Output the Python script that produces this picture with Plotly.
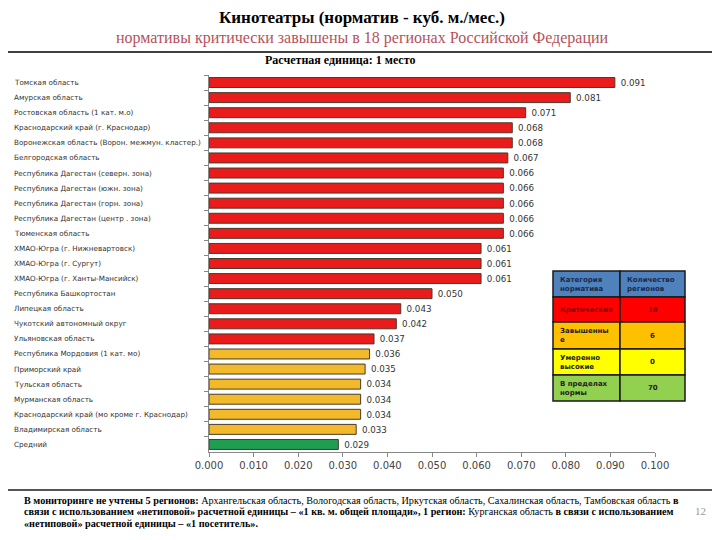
import plotly.graph_objects as go

regions = [
    "Томская область", "Амурская область", "Ростовская область (1 кат. м.о)",
    "Краснодарский край (г. Краснодар)", "Воронежская область (Ворон. межмун. кластер.)",
    "Белгородская область", "Республика Дагестан (северн. зона)",
    "Республика Дагестан (южн. зона)", "Республика Дагестан (горн. зона)",
    "Республика Дагестан (центр . зона)", "Тюменская область",
    "ХМАО-Югра (г. Нижневартовск)", "ХМАО-Югра (г. Сургут)",
    "ХМАО-Югра (г. Ханты-Мансийск)", "Республика Башкортостан",
    "Липецкая область", "Чукотский автономный округ", "Ульяновская область",
    "Республика Мордовия (1 кат. мо)", "Приморский край", "Тульская область",
    "Мурманская область", "Краснодарский край (мо кроме г. Краснодар)",
    "Владимирская область", "Средний",
]
values = [0.091, 0.081, 0.071, 0.068, 0.068, 0.067, 0.066, 0.066, 0.066, 0.066,
          0.066, 0.061, 0.061, 0.061, 0.050, 0.043, 0.042, 0.037, 0.036, 0.035,
          0.034, 0.034, 0.034, 0.033, 0.029]
groups = ["crit"] * 18 + ["high"] * 6 + ["avg"]
group_colors = {"crit": "#EA1B1B", "high": "#F2B92A", "avg": "#1F9E4F"}

x_ticks = [0.000, 0.010, 0.020, 0.030, 0.040, 0.050, 0.060, 0.070, 0.080, 0.090, 0.100]

table_header = ["Категория<br>норматива", "Количество<br>регионов"]
table_cats = ["Критические", "Завышенны<br>е", "Умеренно<br>высокие", "В пределах<br>нормы"]
table_counts = [18, 6, 0, 70]
table_colors = ["#FF0000", "#FFC000", "#FFFF00", "#92D050"]
header_color = "#4F81BD"

# page body has an 8px margin; lay the figure out in screen pixels
OFF = 8
W, H = 720 - 2 * OFF, 540 - 2 * OFF
PL, PR, PT, PB = 209, 655, 75, 452  # plot area in screen pixels
ML, MR, MT, MB = PL - OFF, W - (PR - OFF), PT - OFF, H - (PB - OFF)
PW, PH = W - ML - MR, H - MT - MB


def px(x):
    return (x - OFF - ML) / PW


def py(y):
    return (H - MB - (y - OFF)) / PH


fig = go.Figure()
fig.add_trace(go.Bar(
    y=regions, x=values, orientation="h",
    marker=dict(color=[group_colors[g] for g in groups],
                line=dict(color="#4a3a2a", width=1)),
    text=[f" {v:.3f}" for v in values], textposition="outside",
    textfont=dict(family="DejaVu Sans", size=10.5, color="#333333"),
    cliponaxis=False, hoverinfo="skip",
))

annotations = []
for r in regions:
    annotations.append(dict(x=px(12), xref="paper", y=r, yref="y", text=r,
                            showarrow=False, xanchor="left", yanchor="middle",
                            font=dict(family="DejaVu Sans", size=7.2, color="#333333")))


def note(x, y, text, size, color="#000000", family="Liberation Serif", xanchor="center", align="center"):
    annotations.append(dict(x=px(x), y=py(y), xref="paper", yref="paper", text=text,
                            showarrow=False, xanchor=xanchor, yanchor="middle", align=align,
                            font=dict(family=family, size=size, color=color)))


note(362, 17, "<b>Кинотеатры (норматив - куб. м./мес.)</b>", 17)
note(362, 38, "нормативы критически завышены в 18 регионах Российской Федерации", 16, "#B5525A")
note(340, 60, "<b>Расчетная единица: 1 место</b>", 12)

foot_lines = [
    "<b>В мониторинге не учтены 5 регионов:</b> Архангельская область, Вологодская область, Иркутская область, Сахалинская область, Тамбовская область <b>в</b>",
    "<b>связи с использованием «нетиповой» расчетной единицы – «1 кв. м. общей площади», 1 регион:</b> Курганская область <b>в связи с использованием</b>",
    "<b>«нетиповой» расчетной единицы – «1 посетитель».</b>",
]
for i, t in enumerate(foot_lines):
    note(22, 500 + 11.5 * i, t, 10.2, xanchor="left", align="left")
note(700, 511, "12", 11, "#999999")

shapes = [
    dict(type="line", xref="paper", yref="paper", x0=px(0), x1=px(720), y0=py(490), y1=py(490),
         line=dict(color="#555555", width=2)),
    dict(type="line", xref="paper", yref="paper", x0=px(0), x1=px(720), y0=py(52), y1=py(52),
         line=dict(color="#000000", width=1.5)),
]

# table
cx = [553, 620, 685]
ry = [271, 297, 322, 349, 375, 401]
rows_fill = [header_color] + table_colors
rows_c1 = table_header[:1] + table_cats
rows_c2 = table_header[1:] + [str(c) for c in table_counts]
for i in range(5):
    for j in range(2):
        shapes.append(dict(type="rect", xref="paper", yref="paper",
                           x0=px(cx[j]), x1=px(cx[j + 1]), y0=py(ry[i + 1]), y1=py(ry[i]),
                           fillcolor=rows_fill[i], line=dict(color="#1a1a1a", width=1.5)))
    ymid = (ry[i] + ry[i + 1]) / 2
    tcol = "#1a2a4a" if i == 0 else ("#8a0000" if i == 1 else "#222222")
    note(cx[0] + 5, ymid, "<b>" + rows_c1[i] + "</b>", 7, tcol, "DejaVu Sans", "left", "left")
    if i == 0:
        note(cx[1] + 5, ymid, "<b>" + rows_c2[i] + "</b>", 7, tcol, "DejaVu Sans", "left", "left")
    else:
        note((cx[1] + cx[2]) / 2, ymid, "<b>" + rows_c2[i] + "</b>", 7, tcol, "DejaVu Sans")

fig.update_layout(
    width=W, height=H, margin=dict(l=ML, r=MR, t=MT, b=MB),
    paper_bgcolor="white", plot_bgcolor="white", showlegend=False,
    bargap=0.34,
    xaxis=dict(range=[0, 0.1], tickvals=x_ticks, tickformat=".3f", showgrid=False,
               zeroline=False, showline=True, linecolor="#888888", linewidth=1,
               ticks="outside", ticklen=4, tickcolor="#888888",
               tickfont=dict(family="DejaVu Sans", size=10, color="#444444")),
    yaxis=dict(autorange="reversed", showticklabels=False, showgrid=False,
               showline=True, linecolor="#888888", linewidth=1, ticks="outside",
               ticklen=4, tickcolor="#888888", tickson="boundaries"),
    annotations=annotations, shapes=shapes,
)
fig.write_html("out.html")
